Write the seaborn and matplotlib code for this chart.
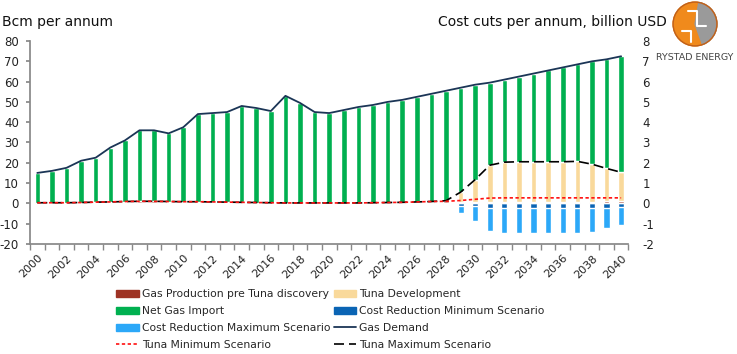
import matplotlib
matplotlib.use("Agg")
import matplotlib.pyplot as plt
import matplotlib.patches as mpatches
import matplotlib.transforms as mtransforms
from matplotlib.lines import Line2D
import numpy as np
import pandas as pd
import seaborn as sns

sns.set_theme(style="white")
plt.rcParams['font.family'] = ['DejaVu Sans']
plt.rcParams['axes.unicode_minus'] = False

years = list(range(2000, 2041))

# Gas demand (Bcm) - top of the stacked bars
gas_demand = [15, 16, 17.5, 21, 22.5, 27.5, 31, 36, 36, 34.5,
              37.5, 44, 44.5, 45, 48, 47, 45.5, 53, 49.5, 45,
              44.5, 46, 47.5, 48.5, 50, 51, 52.5, 54, 55.5, 57,
              58.5, 59.5, 61, 62.5, 64, 65.5, 67, 68.5, 70, 71, 72.5]

# Gas production pre Tuna discovery (Bcm)
gas_prod = [0.3, 0.3, 0.3, 0.4, 0.6, 0.7, 0.9, 1.0, 1.0, 0.9,
            0.8, 0.8, 0.7, 0.6, 0.5, 0.4, 0.3, 0.2, 0.2, 0.2,
            0.2, 0.2, 0.2, 0.3, 0.4, 0.5, 0.7, 0.9, 1.1, 0.9,
            0.8, 0.7, 0.7, 0.7, 0.7, 0.7, 0.7, 0.8, 0.9, 1.0, 1.0]

# Tuna development (Bcm) stacked on top of gas production
tuna_dev = [0] * 28 + [0.2, 4.6, 10.9, 18.1, 19.6, 19.8, 19.8, 19.8,
                       19.8, 19.9, 18.4, 16.2, 14.3]

# Tuna scenario lines (Bcm)
tuna_max = [0.3, 0.3, 0.3, 0.4, 0.6, 0.7, 0.9, 1.0, 1.0, 0.9,
            0.8, 0.8, 0.7, 0.6, 0.5, 0.4, 0.3, 0.2, 0.2, 0.2,
            0.2, 0.2, 0.2, 0.3, 0.4, 0.5, 0.7, 0.9, 1.3, 5.5,
            11.7, 18.8, 20.3, 20.5, 20.5, 20.5, 20.5, 20.7, 19.3, 17.2, 15.3]
tuna_min = [0.3, 0.3, 0.3, 0.4, 0.6, 0.7, 0.9, 1.0, 1.0, 0.9,
            0.8, 0.8, 0.7, 0.6, 0.5, 0.4, 0.3, 0.2, 0.2, 0.2,
            0.2, 0.2, 0.2, 0.3, 0.4, 0.5, 0.7, 0.9, 1.0, 1.4,
            2.0, 2.6, 2.7, 2.7, 2.7, 2.7, 2.7, 2.7, 2.7, 2.7, 2.7]

# Cost reduction (billion USD, right axis)
cost_min = [0] * 28 + [-0.03, -0.12, -0.15, -0.24, -0.24, -0.24, -0.24,
                       -0.24, -0.24, -0.24, -0.24, -0.22, -0.2]
cost_max = [0] * 28 + [-0.08, -0.46, -0.85, -1.38, -1.48, -1.48, -1.48,
                       -1.48, -1.48, -1.48, -1.43, -1.23, -1.05]

df = pd.DataFrame({"Year": years, "Demand": gas_demand, "Prod": gas_prod,
                   "TunaDev": tuna_dev, "TunaMax": tuna_max, "TunaMin": tuna_min,
                   "CostMin": cost_min, "CostMax": cost_max})
df["NetImport"] = df.Demand - df.Prod - df.TunaDev

c_prod = "#9E3324"
c_tuna = "#F9D99B"
c_net = "#00B050"
c_cmin = "#0A64B4"
c_cmax = "#2CA8F8"
c_dem = "#1B3556"

fig = plt.figure(figsize=(7.37, 3.54), dpi=100)
ax = fig.add_axes([0.0407, 0.311, 0.812, 0.573])
ax2 = ax.twinx()

bw = 0.38
ax.bar(df.Year, df.Prod, width=bw, color=c_prod, zorder=2)
ax.bar(df.Year, df.TunaDev, width=bw, bottom=df.Prod, color=c_tuna, zorder=2)
ax.bar(df.Year, df.NetImport, width=bw, bottom=df.Prod + df.TunaDev, color=c_net, zorder=2)

ax2.bar(df.Year, df.CostMax, width=0.42, color=c_cmax, zorder=2)
ax2.bar(df.Year, df.CostMin, width=0.42, color=c_cmin, zorder=3)

sns.lineplot(data=df, x="Year", y="Demand", ax=ax, color=c_dem, lw=1.3, zorder=5)
sns.lineplot(data=df, x="Year", y="TunaMax", ax=ax, color="black", lw=1.2, zorder=5).lines[-1].set_dashes([6, 3])
sns.lineplot(data=df, x="Year", y="TunaMin", ax=ax, color="#FF1010", lw=1.2, zorder=6).lines[-1].set_dashes([2, 1.5])

ax.set_xlim(1999.5, 2040.5)
ax.set_ylim(-20, 80)
ax2.set_ylim(-2, 8)
ax.set_yticks(range(-20, 81, 10))
ax2.set_yticks(range(-2, 9, 1))
ax.set_xlabel("")
ax.set_ylabel("")
ax2.set_ylabel("")

ax.set_xticks(years[::2])
ax.set_xticklabels([str(y) for y in years[::2]], rotation=45, ha="right",
                   va="top", rotation_mode="anchor", fontsize=8, color="#222222")
shift = mtransforms.ScaledTranslation(4 / 100, 0, fig.dpi_scale_trans)
for lbl in ax.get_xticklabels():
    lbl.set_transform(lbl.get_transform() + shift)
ax.set_xticks(np.arange(1999.5, 2041, 1), minor=True)
ax.tick_params(axis="x", which="major", length=0, pad=6.5)
ax.tick_params(axis="x", which="minor", length=4, color="#888888", direction="out", bottom=True)
ax.tick_params(axis="y", length=3, color="#888888", direction="out", left=True,
               labelsize=8.5, labelcolor="#222222", pad=5)
ax2.tick_params(axis="y", length=0, labelsize=8.5, labelcolor="#222222", pad=10)

for a in (ax, ax2):
    a.spines["top"].set_visible(False)
    a.spines["right"].set_visible(False)
ax2.spines["left"].set_visible(False)
ax2.spines["bottom"].set_visible(False)
ax.spines["left"].set_color("#888888")
ax.spines["bottom"].set_color("#888888")
ax.set_zorder(ax2.get_zorder() + 1)
ax.patch.set_visible(False)

fig.text(2 / 737, 1 - 22 / 354, "Bcm per annum", fontsize=10, va="center", ha="left", color="#111111")
fig.text(667 / 737, 1 - 22 / 354, "Cost cuts per annum, billion USD", fontsize=10,
         va="center", ha="right", color="#111111")

# logo
lax = fig.add_axes([672 / 737, 1 - 47 / 354, 46 / 737, 46 / 354])
lax.set_xlim(-1.05, 1.05)
lax.set_ylim(-1.05, 1.05)
lax.set_aspect("equal")
lax.axis("off")
lax.add_patch(mpatches.Circle((0, 0), 1.0, color="#F08A1C"))
lax.add_patch(mpatches.Wedge((0, 0), 1.0, -70, 80, color="#9A9A9A"))
lax.add_patch(mpatches.Circle((0, 0), 1.0, fill=False, ec="#C0601A", lw=1))
lax.plot([-0.3, 0.1, 0.1, 0.5], [0.6, 0.6, -0.1, -0.1], color="white", lw=1.5)
lax.plot([-0.6, -0.2, -0.2], [-0.3, -0.3, -0.8], color="white", lw=1.5)
fig.text(695 / 737, 1 - 57 / 354, "RYSTAD ENERGY", fontsize=6.8, ha="center", va="center", color="#444444")

handles = {
    "Gas Production pre Tuna discovery": mpatches.Patch(color=c_prod),
    "Tuna Development": mpatches.Patch(color=c_tuna),
    "Net Gas Import": mpatches.Patch(color=c_net),
    "Cost Reduction Minimum Scenario": mpatches.Patch(color=c_cmin),
    "Cost Reduction Maximum Scenario": mpatches.Patch(color=c_cmax),
    "Gas Demand": Line2D([], [], color=c_dem, lw=1.3),
    "Tuna Minimum Scenario": Line2D([], [], color="#FF1010", lw=1.2, dashes=[2, 1.5]),
    "Tuna Maximum Scenario": Line2D([], [], color="black", lw=1.2, dashes=[6, 3]),
}
order = ["Gas Production pre Tuna discovery", "Net Gas Import", "Cost Reduction Maximum Scenario",
         "Tuna Minimum Scenario", "Tuna Development", "Cost Reduction Minimum Scenario",
         "Gas Demand", "Tuna Maximum Scenario"]
fig.legend([handles[k] for k in order], order, ncol=2, loc="upper left",
           bbox_to_anchor=(116 / 737, 1 - 289 / 354), frameon=False, fontsize=7.75,
           handlelength=2.1, handleheight=0.6, handletextpad=0.3, columnspacing=0.3,
           labelspacing=0.65, borderpad=0, borderaxespad=0)

fig.savefig("out.png", dpi=100)
